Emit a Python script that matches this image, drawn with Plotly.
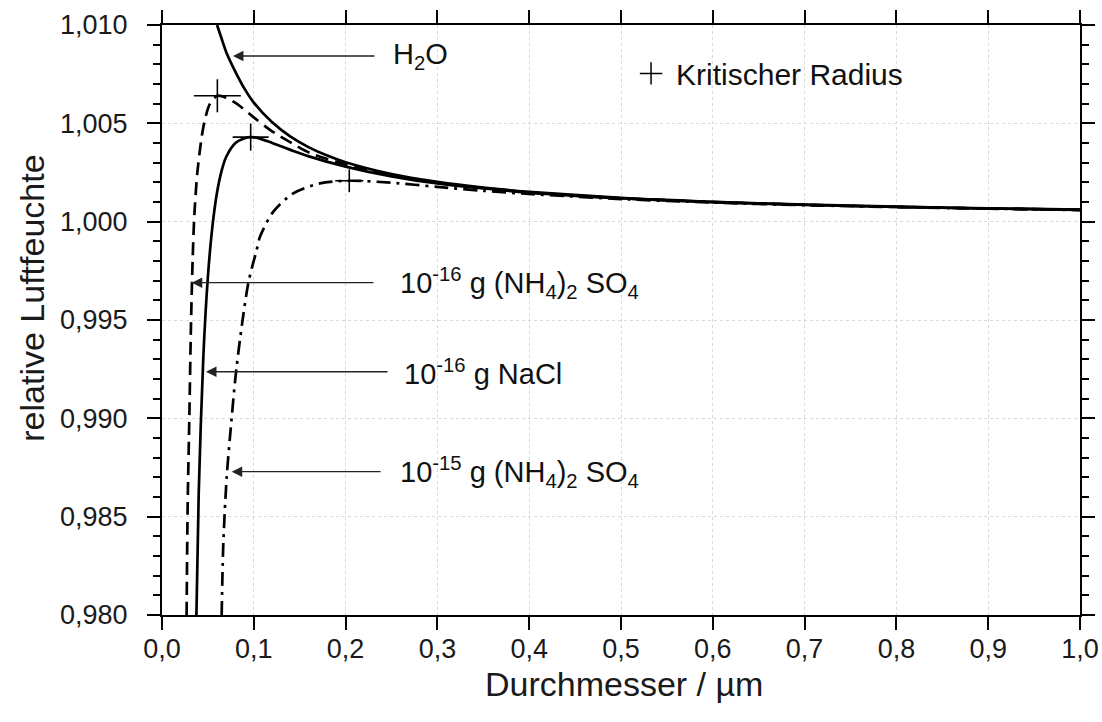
import plotly.graph_objects as go

# ---------------- data ----------------
D_h2o = [0.060, 0.065, 0.070, 0.080, 0.090, 0.100, 0.120, 0.140, 0.160, 0.180, 0.200,
         0.250, 0.300, 0.350, 0.400, 0.500, 0.600, 0.700, 0.800, 0.900, 1.000]
S_h2o = [1.0100, 1.0093, 1.00862, 1.00762, 1.00675, 1.00605, 1.00505, 1.00432, 1.00378,
         1.00336, 1.00302, 1.00242, 1.00202, 1.00173, 1.00152, 1.00121, 1.00101, 1.00087,
         1.00076, 1.00068, 1.00061]

D_nacl = [0.0375, 0.040, 0.045, 0.050, 0.055, 0.060, 0.065, 0.070, 0.080, 0.090, 0.0966,
          0.105, 0.120, 0.140, 0.160, 0.200, 0.250, 0.300, 0.400, 0.500, 0.600, 0.700,
          0.800, 0.900, 1.000]
S_nacl = [0.9800, 0.9862, 0.9931, 0.9972, 0.9998, 1.0015, 1.0026, 1.0033, 1.0040, 1.00424,
          1.0043, 1.00425, 1.00400, 1.00365, 1.00332, 1.00280, 1.00230, 1.00194, 1.00148,
          1.00119, 1.00099, 1.00085, 1.00075, 1.00067, 1.00060]

D_as16 = [0.0268, 0.0280, 0.0298, 0.0315, 0.0334, 0.0352, 0.0385, 0.0432, 0.0468, 0.0523,
          0.0603, 0.0700, 0.0813, 0.1000, 0.1176, 0.1400, 0.1610, 0.2084, 0.2500, 0.3000,
          0.4000, 0.5000, 0.6000, 0.7000, 0.8000, 0.9000, 1.0000]
S_as16 = [0.9800, 0.9857, 0.9901, 0.9946, 0.9981, 1.0003, 1.0025, 1.0043, 1.0052, 1.0060,
          1.0064, 1.0063, 1.0060, 1.0053, 1.00467, 1.00403, 1.0035, 1.0028, 1.00235, 1.00197,
          1.00149, 1.00119, 1.00100, 1.00086, 1.00075, 1.00067, 1.00060]

D_as15 = [0.0650, 0.0668, 0.0705, 0.0741, 0.0813, 0.0940, 0.1031, 0.1068, 0.1213, 0.1430,
          0.1720, 0.2040, 0.2500, 0.3000, 0.3500, 0.4000, 0.5000, 0.6000, 0.7000, 0.8000,
          0.9000, 1.0000]
S_as15 = [0.9800, 0.98365, 0.98703, 0.98907, 0.99263, 0.99687, 0.99856, 0.99924, 1.00051,
          1.00144, 1.00195, 1.00208, 1.00198, 1.00177, 1.00157, 1.00141, 1.00115, 1.00097,
          1.00084, 1.00074, 1.00066, 1.00059]

crit_D = [0.0603, 0.0966, 0.2040]
crit_S = [1.00640, 1.00430, 1.00208]

x_ticks = [0.0, 0.1, 0.2, 0.3, 0.4, 0.5, 0.6, 0.7, 0.8, 0.9, 1.0]
x_tick_labels = ["0,0", "0,1", "0,2", "0,3", "0,4", "0,5", "0,6", "0,7", "0,8", "0,9", "1,0"]
y_ticks = [0.980, 0.985, 0.990, 0.995, 1.000, 1.005, 1.010]
y_tick_labels = ["0,980", "0,985", "0,990", "0,995", "1,000", "1,005", "1,010"]

curve_labels = ["H<sub>2</sub>O",
                "10<sup>-16</sup> g (NH<sub>4</sub>)<sub>2</sub> SO<sub>4</sub>",
                "10<sup>-16</sup> g NaCl",
                "10<sup>-15</sup> g (NH<sub>4</sub>)<sub>2</sub> SO<sub>4</sub>"]

# ---------------- styling / positions ----------------
FONT = "Liberation Sans, Arial, sans-serif"
cross_half_x = [0.0256, 0.0196, 0.0153]
cross_half_y = [0.00084, 0.00069, 0.00058]

arrow_head_D = [0.0773, 0.0324, 0.0479, 0.0759]
arrow_head_S = [1.00842, 0.99690, 0.99237, 0.98729]
arrow_tail_D = [0.2331, 0.2320, 0.2473, 0.2397]
label_D = [0.2495, 0.2570, 0.2610, 0.2570]
label_S = [1.00842, 0.99690, 0.99237, 0.98729]

fig = go.Figure()
line_common = dict(color="black", width=2.7)
fig.add_trace(go.Scatter(x=D_h2o, y=S_h2o, mode="lines", showlegend=False,
                         line=dict(**line_common, shape="spline", smoothing=0.8)))
fig.add_trace(go.Scatter(x=D_nacl, y=S_nacl, mode="lines", showlegend=False,
                         line=dict(**line_common, shape="spline", smoothing=0.8)))
fig.add_trace(go.Scatter(x=D_as16, y=S_as16, mode="lines", showlegend=False,
                         line=dict(**line_common, dash="13px,7px", shape="spline", smoothing=0.8)))
fig.add_trace(go.Scatter(x=D_as15, y=S_as15, mode="lines", showlegend=False,
                         line=dict(**line_common, dash="14px,6px,3px,6px", shape="spline", smoothing=0.8)))

# critical radius crosses
fig.add_trace(go.Scatter(
    x=crit_D, y=crit_S, mode="markers", showlegend=False,
    marker=dict(size=1, color="black"),
    error_x=dict(type="data", array=cross_half_x, symmetric=True, width=0, thickness=1.6, color="black"),
    error_y=dict(type="data", array=cross_half_y, symmetric=True, width=0, thickness=1.6, color="black"),
))
# legend entry
fig.add_trace(go.Scatter(
    x=[None], y=[None], mode="markers", name="Kritischer Radius",
    marker=dict(symbol="cross-thin", size=22, line=dict(width=1.5, color="black"), color="black"),
))

for i in range(4):
    fig.add_annotation(x=arrow_head_D[i], y=arrow_head_S[i], ax=arrow_tail_D[i], ay=arrow_head_S[i],
                       xref="x", yref="y", axref="x", ayref="y", text="", showarrow=True,
                       arrowhead=2, arrowsize=1.5, arrowwidth=1.4, arrowcolor="#222222", standoff=0)
    fig.add_annotation(x=label_D[i], y=label_S[i], xref="x", yref="y", text=curve_labels[i],
                       showarrow=False, xanchor="left", yanchor="middle",
                       font=dict(family=FONT, size=29, color="#111111"))

# axis titles (as text, positioned like the reference)
fig.add_annotation(x=-0.141, y=0.537, xref="paper", yref="paper", text="relative Luftfeuchte",
                   textangle=-90, showarrow=False, xanchor="center", yanchor="middle",
                   font=dict(family=FONT, size=34, color="#1a1a1a"))
fig.add_annotation(x=0.503, y=-0.117, xref="paper", yref="paper", text="Durchmesser / µm",
                   showarrow=False, xanchor="center", yanchor="middle",
                   font=dict(family=FONT, size=34, color="#1a1a1a"))

axis_common = dict(showline=True, linecolor="black", linewidth=2, mirror="allticks",
                   ticks="outside", ticklen=13, tickwidth=2, tickcolor="black",
                   showgrid=True, gridcolor="#d9d9d9", griddash="dot", gridwidth=1,
                   zeroline=False, automargin=False,
                   tickfont=dict(family=FONT, size=27, color="#1a1a1a"))

fig.update_layout(
    width=1102, height=722, autosize=False,
    margin=dict(l=162, r=22, t=25, b=107, pad=0),
    plot_bgcolor="white", paper_bgcolor="white",
    font=dict(family=FONT, color="#1a1a1a"),
    xaxis=dict(range=[0, 1.0], tickvals=x_ticks, ticktext=x_tick_labels,
               ticklabelstandoff=-4, **axis_common),
    yaxis=dict(range=[0.980, 1.010], tickvals=y_ticks, ticktext=y_tick_labels,
               ticklabelstandoff=14,
               minor=dict(tick0=0.980, dtick=0.001, ticks="outside", ticklen=7, tickwidth=2,
                          tickcolor="black", showgrid=False),
               **axis_common),
    legend=dict(x=0.5055, y=0.918, xanchor="left", yanchor="middle", bgcolor="rgba(0,0,0,0)",
                itemwidth=40, font=dict(family=FONT, size=30, color="#111111")),
)

fig.write_html("out.html")
